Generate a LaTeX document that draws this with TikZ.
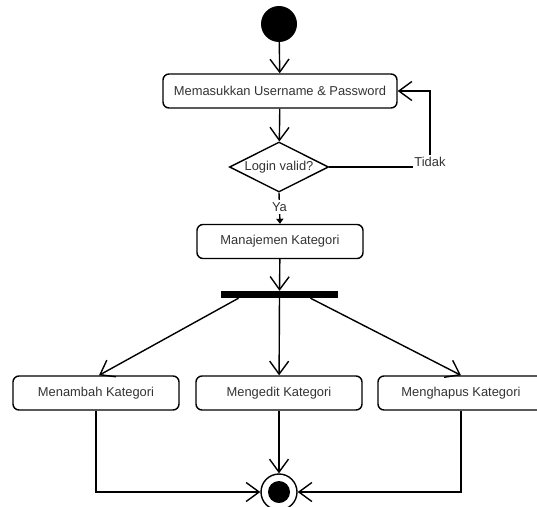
\documentclass[tikz,border=0pt]{standalone}
\usepackage{fontspec}
\setmainfont{Liberation Sans}
\usetikzlibrary{arrows.meta,shapes.geometric}
\definecolor{txt}{HTML}{333333}
\begin{document}
\begin{tikzpicture}[x=1pt,y=-1pt,
  lbl/.style={font=\fontsize{12.9}{15}\selectfont,text=txt},
  act/.style={lbl,draw,rounded corners=6pt,line width=1.4pt,minimum height=34pt,minimum width=166pt,inner sep=0pt},
  flow/.style={line width=1.4pt,-{Straight Barb[length=13pt,width=19pt,line width=1.4pt]}},
  guard/.style={lbl,fill=white,inner xsep=1pt,inner ysep=2.5pt}]
\useasboundingbox (0,0) rectangle (537,506);
\node[circle,fill=black,minimum size=36pt,inner sep=0pt] (start) at (279,24) {};
\node[act,minimum width=234pt] (login) at (280,91) {Memasukkan Username \& Password};
\node[lbl,diamond,draw,line width=1.4pt,aspect=2,inner sep=0pt,minimum width=99pt,minimum height=50pt] (valid) at (279,167) {Login valid?};
\node[act] (manage) at (280,241.5) {Manajemen Kategori};
\node[fill=black,minimum width=117pt,minimum height=7pt,inner sep=0pt] (fork) at (279.5,294.5) {};
\node[act] (addk) at (96,393) {Menambah Kategori};
\node[act] (editk) at (279,393) {Mengedit Kategori};
\node[act] (delk) at (461,393) {Menghapus Kategori};
\node[circle,draw,line width=1.4pt,minimum size=36pt,inner sep=0pt] (end) at (279,492) {};
\fill (end.center) circle[radius=11pt];
\coordinate (tk) at (430,167);

\draw[flow] (start) -- (login);
\draw[flow] (login) -- (valid);
\draw[flow] (valid.east) -- (tk) |- (login.east);
\node[guard,anchor=base] at (430,166.5) {Tidak};
\draw[line width=1.4pt,-{Triangle[length=5pt,width=7pt]}] (valid.south) -- (manage.north)
  node[guard,pos=0.45] {Ya};
\draw[flow] (manage) -- (fork);
\draw[flow] ([xshift=-41pt]fork.south) -- ([xshift=3pt]addk.north);
\draw[flow] (fork) -- (editk);
\draw[flow] ([xshift=31pt]fork.south) -- (delk.north);
\draw[flow] (editk) -- (end);
\draw[flow] (addk.south) |- (end.west);
\draw[flow] (delk.south) |- (end.east);
\end{tikzpicture}
\end{document}
